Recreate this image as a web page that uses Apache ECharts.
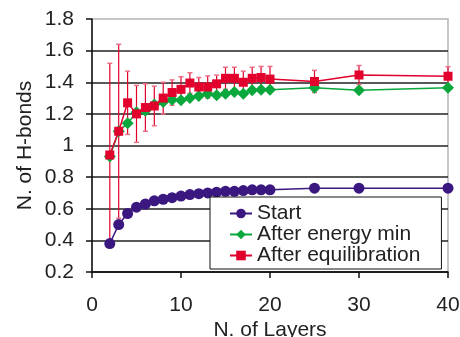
<!DOCTYPE html>
<html>
<head>
<meta charset="utf-8">
<script src="https://cdn.jsdelivr.net/npm/echarts@6/dist/echarts.min.js"></script>
<style>
  html, body { margin: 0; padding: 0; background: #fff; }
  #chart { width: 460px; height: 337px; }
</style>
</head>
<body>
<div id="chart"></div>
<script>
// number of layers (x values)
const layers = [2, 3, 4, 5, 6, 7, 8, 9, 10, 11, 12, 13, 14, 15, 16, 17, 18, 19, 20, 25, 30, 40];
// N. of H-bonds per series
const start = [0.38, 0.50, 0.57, 0.61, 0.63, 0.65, 0.66, 0.67, 0.68, 0.69, 0.695, 0.70, 0.705, 0.71, 0.71, 0.715, 0.72, 0.72, 0.72, 0.73, 0.73, 0.73];
const energyMin = [0.93, 1.09, 1.14, 1.21, 1.22, 1.26, 1.275, 1.29, 1.286, 1.30, 1.313, 1.328, 1.318, 1.328, 1.338, 1.328, 1.349, 1.353, 1.353, 1.366, 1.35, 1.366];
const equil = [0.94, 1.09, 1.27, 1.20, 1.24, 1.25, 1.30, 1.335, 1.355, 1.395, 1.37, 1.37, 1.39, 1.425, 1.425, 1.40, 1.425, 1.43, 1.42, 1.405, 1.446, 1.438];
// +/- error on the equilibration series
const equilErr = [0.58, 0.55, 0.20, 0.18, 0.15, 0.125, 0.10, 0.08, 0.08, 0.065, 0.06, 0.07, 0.055, 0.07, 0.07, 0.07, 0.07, 0.07, 0.08, 0.07, 0.06, 0.06];

const PURPLE = '#3b1780';
const GREEN = '#0aa83c';
const RED = '#e2002c';
const FONT = 'Liberation Sans';

const pairs = (ys) => layers.map((x, i) => [x, ys[i]]);
const errData = layers.map((x, i) => [x, equil[i] - equilErr[i], equil[i] + equilErr[i]]);

const chart = echarts.init(document.getElementById('chart'));

const option = {
  animation: false,
  textStyle: { fontFamily: FONT },
  grid: {
    left: 92, right: 12, top: 19, bottom: 65,
    outerBoundsMode: 'none',
    show: true, borderColor: '#b4b4b4', borderWidth: 1.5
  },
  legend: {
    orient: 'vertical',
    left: 210, top: 197,
    padding: [6, 21, 3, 19],
    itemGap: 0,
    itemWidth: 22, itemHeight: 12,
    backgroundColor: '#fff',
    borderColor: '#111', borderWidth: 1,
    textStyle: { fontSize: 21, color: '#222', fontFamily: FONT, lineHeight: 20 },
    data: ['Start', 'After energy min', 'After equilibration']
  },
  xAxis: {
    type: 'value',
    min: 0, max: 40, interval: 10,
    name: 'N. of Layers',
    nameLocation: 'middle',
    nameGap: 48,
    nameMoveOverlap: false,
    nameTextStyle: { fontSize: 21, color: '#222', fontFamily: FONT },
    axisLine: { lineStyle: { color: '#111', width: 1.5 } },
    axisTick: { show: true, inside: false, length: 6, lineStyle: { color: '#111', width: 1.5 } },
    axisLabel: { fontSize: 21, color: '#222', margin: 23, fontFamily: FONT, showMinLabel: true, showMaxLabel: true, hideOverlap: false },
    splitLine: { show: false }
  },
  yAxis: {
    type: 'value',
    min: 0.2, max: 1.8, interval: 0.2,
    name: 'N. of H-bonds',
    nameLocation: 'middle',
    nameGap: 56,
    nameMoveOverlap: false,
    nameTextStyle: { fontSize: 21, color: '#222', fontFamily: FONT },
    axisLine: { show: true, lineStyle: { color: '#111', width: 1.5 } },
    axisTick: { show: true, inside: false, length: 6, lineStyle: { color: '#111', width: 1.5 } },
    axisLabel: {
      fontSize: 21, color: '#222', margin: 18, fontFamily: FONT,
      showMinLabel: true, showMaxLabel: true, hideOverlap: false,
      formatter: (v) => String(Math.round(v * 10) / 10)
    },
    splitLine: { show: true, showMaxLine: false, lineStyle: { color: '#222', width: 1.5 } }
  },
  series: [
    {
      name: 'After equilibration error',
      type: 'custom',
      silent: true,
      z: 1,
      data: errData,
      renderItem: (params, api) => {
        const x = api.value(0);
        const lo = api.coord([x, api.value(1)]);
        const hi = api.coord([x, api.value(2)]);
        return {
          type: 'group',
          children: [
            { type: 'line', shape: { x1: hi[0], y1: hi[1], x2: lo[0], y2: lo[1] }, style: { stroke: RED, lineWidth: 1.2 } },
            { type: 'line', shape: { x1: hi[0] - 2.5, y1: hi[1], x2: hi[0] + 2.5, y2: hi[1] }, style: { stroke: '#ec6f86', lineWidth: 1.5 } },
            { type: 'line', shape: { x1: lo[0] - 2.5, y1: lo[1], x2: lo[0] + 2.5, y2: lo[1] }, style: { stroke: '#ec6f86', lineWidth: 1.5 } }
          ]
        };
      }
    },
    {
      name: 'Start',
      type: 'line',
      z: 3,
      data: pairs(start),
      symbol: 'circle', symbolSize: 11,
      itemStyle: { color: PURPLE },
      lineStyle: { color: PURPLE, width: 1.5 }
    },
    {
      name: 'After energy min',
      type: 'line',
      z: 4,
      data: pairs(energyMin),
      symbol: 'diamond', symbolSize: 12,
      itemStyle: { color: GREEN },
      lineStyle: { color: GREEN, width: 1.5 }
    },
    {
      name: 'After equilibration',
      type: 'line',
      z: 5,
      data: pairs(equil),
      symbol: 'rect', symbolSize: 9,
      itemStyle: { color: RED },
      lineStyle: { color: RED, width: 1.5 }
    }
  ]
};

chart.setOption(option);
</script>
</body>
</html>
